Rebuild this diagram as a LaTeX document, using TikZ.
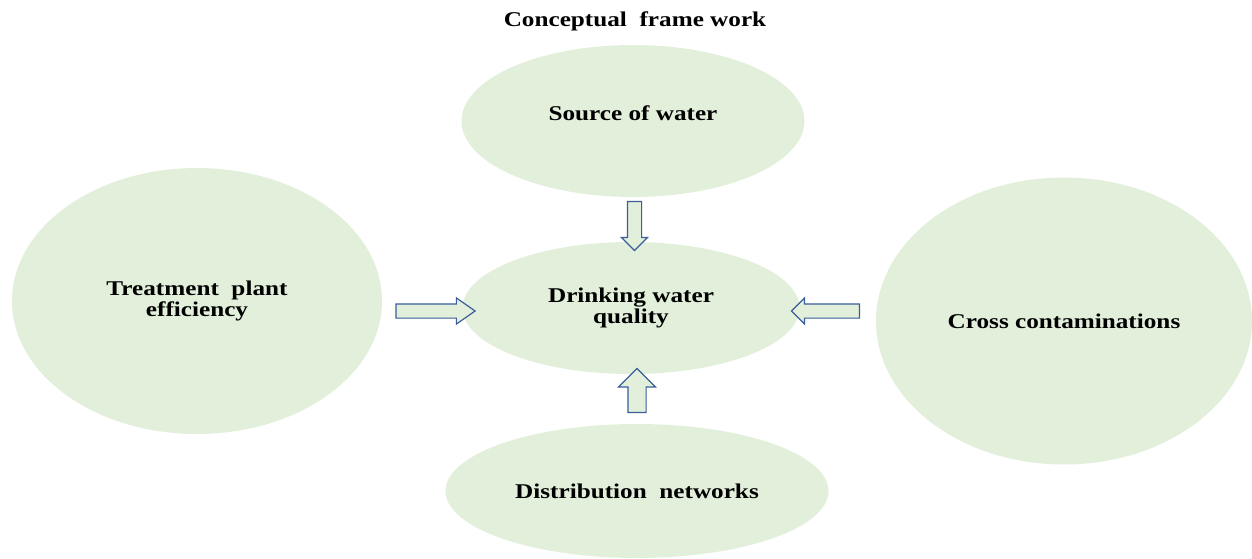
\documentclass[tikz,border=0pt]{standalone}
\usepackage{fontspec}
\usepackage{tikz}
\usetikzlibrary{shapes.geometric,shapes.arrows}
\newfontfamily\lblfont[FakeStretch=1.2]{Liberation Serif}
\definecolor{VerdeClaro}{HTML}{E2EFDA}
\definecolor{AzulBorde}{HTML}{3A5E9C}

\begin{document}
\begin{tikzpicture}[
  x=1pt,y=-1pt,
  font=\lblfont\bfseries\fontsize{21}{21}\selectfont,
  blob/.style={ellipse,fill=VerdeClaro,draw=none,inner sep=0pt,align=center},
  fatarrow/.style={single arrow,draw=AzulBorde,fill=VerdeClaro,line width=1.2pt,
    inner sep=6.5pt,single arrow head extend=6pt,minimum height=#1,anchor=center}
]
  \useasboundingbox (0,0) rectangle (1252,559);

  % Titulo
  \node (titulo) at (635,21) {Conceptual\ \ frame\ work};

  % Elipses
  \node[blob,minimum width=343,minimum height=152] (fuente) at (633,121)
    {Source of water\\[-5pt]};
  \node[blob,minimum width=337,minimum height=132] (calidad) at (631,308)
    {Drinking water\\quality};
  \node[blob,minimum width=370,minimum height=266] (planta) at (197,301)
    {Treatment\ \ plant\\efficiency};
  \node[blob,minimum width=376,minimum height=287] (cruce) at (1064,321)
    {Cross contaminations};
  \node[blob,minimum width=383,minimum height=134] (red) at (637,491)
    {Distribution\ \ networks};

  % Flechas hacia el centro
  \node[fatarrow=49,shape border rotate=270] (fdown) at (634.5,222.5) {};
  \node[fatarrow=79,single arrow tip angle=70] (fright) at (430.5,311) {};
  \node[fatarrow=68,shape border rotate=180] (fleft) at (829,311) {};
  \node[fatarrow=44,shape border rotate=90,inner sep=8.5pt,
    single arrow head extend=9.5pt] (fup) at (637,395) {};
\end{tikzpicture}
\end{document}
